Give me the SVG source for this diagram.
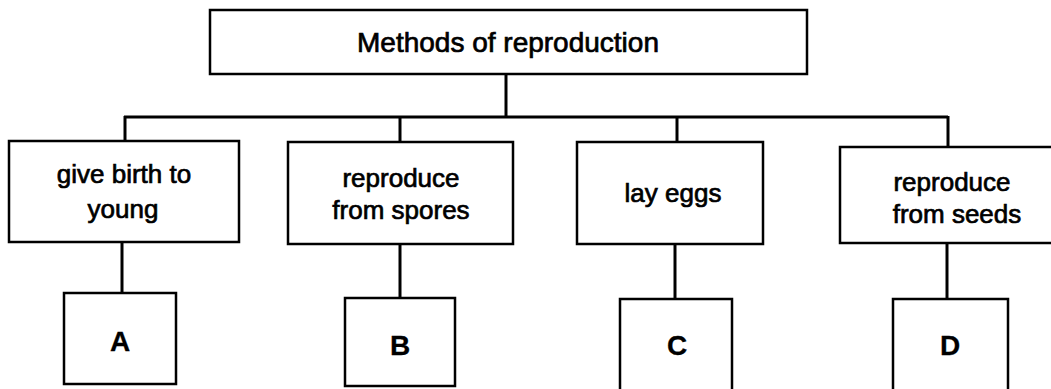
<svg xmlns="http://www.w3.org/2000/svg" width="1051" height="389" viewBox="0 0 1051 389">
<style>
rect.box{fill:#fff;stroke:#000;stroke-width:2.5}
.conn line{stroke:#000;stroke-width:3}
text{font-family:"Liberation Sans",Arial,sans-serif;font-size:26px;fill:#000;stroke:#000;stroke-width:0.7;text-anchor:middle}
text.title{font-size:28px}
text.letter{font-weight:bold;font-size:28px;stroke-width:0.3}
</style>
<rect width="1051" height="389" fill="#fff"/>
<g class="conn">
<line x1="506" y1="74" x2="506" y2="117"/>
<line x1="124" y1="117" x2="948" y2="117"/>
<line x1="125" y1="116" x2="125" y2="141"/>
<line x1="400" y1="116" x2="400" y2="142"/>
<line x1="677" y1="116" x2="677" y2="142"/>
<line x1="948" y1="116" x2="948" y2="147"/>
<line x1="122" y1="242" x2="122" y2="293"/>
<line x1="400" y1="244" x2="400" y2="298"/>
<line x1="675" y1="244" x2="675" y2="299"/>
<line x1="947" y1="243" x2="947" y2="299"/>
</g>
<g id="root"><rect class="box" x="210" y="10" width="597" height="64"/><text class="title" x="508" y="52">Methods of reproduction</text></g>
<g id="n1"><rect class="box" x="9" y="141" width="230" height="101"/><text x="124" y="183">give birth to</text><text x="123" y="218">young</text></g>
<g id="n2"><rect class="box" x="288" y="142" width="225" height="102"/><text x="401" y="187">reproduce</text><text x="401" y="219">from spores</text></g>
<g id="n3"><rect class="box" x="577" y="142" width="186" height="102"/><text x="673" y="202">lay eggs</text></g>
<g id="n4"><rect class="box" x="840" y="147" width="220" height="96"/><text x="952" y="191">reproduce</text><text x="957" y="223">from seeds</text></g>
<g id="a"><rect class="box" x="64" y="293" width="112" height="91"/><text class="letter" x="120" y="351">A</text></g>
<g id="b"><rect class="box" x="345" y="298" width="110" height="88"/><text class="letter" x="400" y="355">B</text></g>
<g id="c"><rect class="box" x="620" y="299" width="112" height="95"/><text class="letter" x="677" y="355">C</text></g>
<g id="d"><rect class="box" x="893" y="299" width="115" height="95"/><text class="letter" x="950" y="355">D</text></g>
</svg>
